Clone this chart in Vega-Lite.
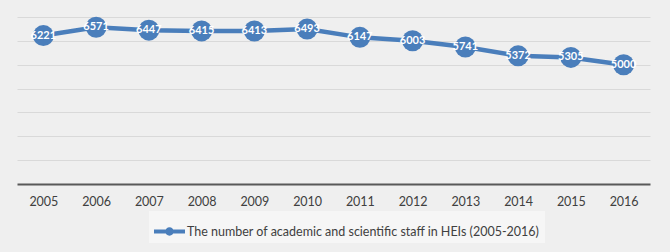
{
  "$schema": "https://vega.github.io/schema/vega-lite/v6.json",
  "width": 633,
  "height": 167,
  "autosize": "none",
  "padding": {"left": 17, "top": 17, "right": 20, "bottom": 68},
  "background": "#efefef",
  "data": {
    "values": [
      {"year": "2005", "staff": 6221, "series": "The number of academic and scientific staff in HEIs (2005-2016)"},
      {"year": "2006", "staff": 6571, "series": "The number of academic and scientific staff in HEIs (2005-2016)"},
      {"year": "2007", "staff": 6447, "series": "The number of academic and scientific staff in HEIs (2005-2016)"},
      {"year": "2008", "staff": 6415, "series": "The number of academic and scientific staff in HEIs (2005-2016)"},
      {"year": "2009", "staff": 6413, "series": "The number of academic and scientific staff in HEIs (2005-2016)"},
      {"year": "2010", "staff": 6493, "series": "The number of academic and scientific staff in HEIs (2005-2016)"},
      {"year": "2011", "staff": 6147, "series": "The number of academic and scientific staff in HEIs (2005-2016)"},
      {"year": "2012", "staff": 6003, "series": "The number of academic and scientific staff in HEIs (2005-2016)"},
      {"year": "2013", "staff": 5741, "series": "The number of academic and scientific staff in HEIs (2005-2016)"},
      {"year": "2014", "staff": 5372, "series": "The number of academic and scientific staff in HEIs (2005-2016)"},
      {"year": "2015", "staff": 5305, "series": "The number of academic and scientific staff in HEIs (2005-2016)"},
      {"year": "2016", "staff": 5000, "series": "The number of academic and scientific staff in HEIs (2005-2016)"}
    ]
  },
  "encoding": {
    "x": {
      "field": "year", "type": "ordinal",
      "scale": {"type": "point", "padding": 0.5},
      "axis": {
        "title": null, "labelAngle": 0, "ticks": false,
        "domainColor": "#595959", "domainWidth": 2,
        "labelFont": "Lato", "labelFontSize": 12.5, "labelColor": "#404040",
        "labelPadding": 11, "grid": false
      }
    },
    "y": {
      "field": "staff", "type": "quantitative",
      "scale": {"domain": [0, 7000]},
      "axis": {
        "title": null, "labels": false, "ticks": false, "domain": false,
        "values": [1000, 2000, 3000, 4000, 5000, 6000, 7000],
        "gridColor": "#d9d9d9", "gridWidth": 1
      }
    }
  },
  "layer": [
    {
      "mark": {"type": "line", "color": "#4a7ebb", "strokeWidth": 4.5}
    },
    {
      "mark": {"type": "point", "filled": true, "shape": "circle", "size": 440, "opacity": 1},
      "encoding": {
        "color": {
          "field": "series", "type": "nominal",
          "scale": {"range": ["#4a7ebb"]},
          "legend": {
            "title": null, "orient": "none", "legendX": 132, "legendY": 194,
            "symbolType": "M-1,-0.13H1V0.13H-1Z M-0.27,0A0.27,0.27 0 1,1 0.27,0A0.27,0.27 0 1,1 -0.27,0Z",
            "symbolSize": 961, "symbolStrokeWidth": 0, "symbolOpacity": 1,
            "labelFont": "Lato", "labelFontSize": 12.5, "labelColor": "#404040", "labelLimit": 500,
            "labelOffset": 2,
            "padding": 5, "fillColor": "#f6f6f6"
          }
        }
      }
    },
    {
      "mark": {"type": "text", "color": "white", "font": "Lato", "fontWeight": "bold", "fontSize": 11, "baseline": "middle"},
      "encoding": {"text": {"field": "staff", "type": "quantitative", "format": "d"}}
    }
  ],
  "config": {"view": {"stroke": null}}
}
